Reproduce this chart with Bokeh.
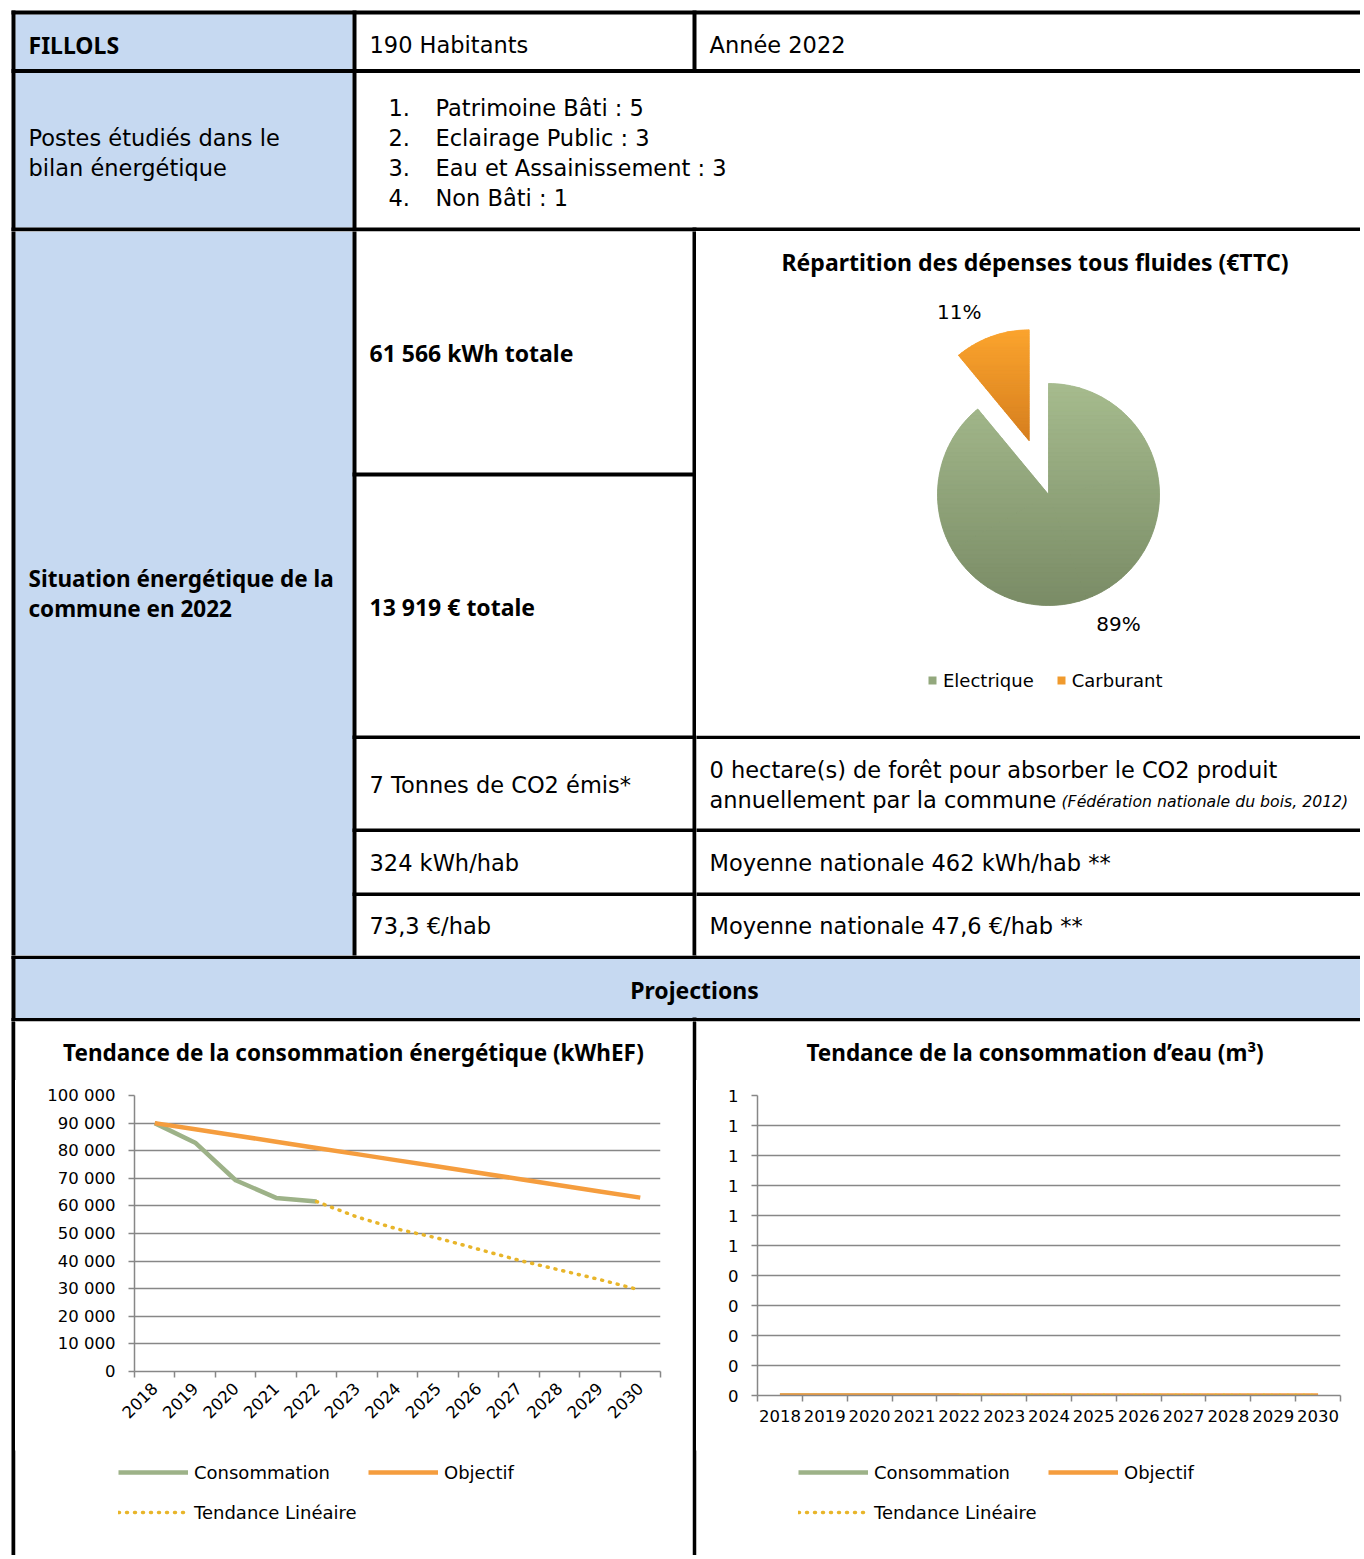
import math
from bokeh.plotting import figure
from bokeh.layouts import column, row
from bokeh.models import Range1d, FixedTicker, Legend, LegendItem
from bokeh.core.properties import value
from bokeh.embed import file_html
from bokeh.resources import INLINE

# ---------------- data ----------------
commune = "FILLOLS"
habitants = "190 Habitants"
annee = "Année 2022"
postes_titre = ["Postes étudiés dans le", "bilan énergétique"]
postes_num = ["1.", "2.", "3.", "4."]
postes = ["Patrimoine Bâti : 5", "Eclairage Public : 3",
          "Eau et Assainissement : 3", "Non Bâti : 1"]
situation_titre = ["Situation énergétique de la", "commune en 2022"]
energie_totale = "61 566 kWh totale"
cout_total = "13 919 € totale"
co2 = "7 Tonnes de CO2 émis*"
foret = ["0 hectare(s) de forêt pour absorber le CO2 produit",
         "annuellement par la commune"]
foret_source = "(Fédération nationale du bois, 2012)"
kwh_hab = "324 kWh/hab"
kwh_nat = "Moyenne nationale 462 kWh/hab **"
eur_hab = "73,3 €/hab"
eur_nat = "Moyenne nationale 47,6 €/hab **"
projections = "Projections"

pie_title = "Répartition des dépenses tous fluides (€TTC)"
pie_labels = ["Electrique", "Carburant"]
pie_values = [89, 11]
pie_texts = ["89%", "11%"]

legend_labels = ["Consommation", "Objectif", "Tendance Linéaire"]
years = [2018, 2019, 2020, 2021, 2022, 2023, 2024, 2025, 2026, 2027, 2028, 2029, 2030]
conso_years = [2018, 2019, 2020, 2021, 2022]
trend_years = [2022, 2023, 2024, 2025, 2026, 2027, 2028, 2029, 2030]

energy_title = "Tendance de la consommation énergétique (kWhEF)"
conso_energy = [90000, 82900, 69300, 62900, 61566]
objectif_energy = [90000, 87750, 85500, 83250, 81000, 78750, 76500,
                   74250, 72000, 69750, 67500, 65250, 63000]
trend_energy = [61566, 56000, 51600, 48300, 44300, 40300, 36800, 33300, 29500]
energy_ticks = [0, 10000, 20000, 30000, 40000, 50000, 60000, 70000, 80000, 90000, 100000]
energy_tick_labels = ["0", "10 000", "20 000", "30 000", "40 000", "50 000",
                      "60 000", "70 000", "80 000", "90 000", "100 000"]

water_title = "Tendance de la consommation d’eau (m³)"
conso_water = [0, 0, 0, 0, 0]
objectif_water = [0, 0, 0, 0, 0, 0, 0, 0, 0, 0, 0, 0, 0]
trend_water = [0, 0, 0, 0, 0, 0, 0, 0, 0]
water_ticks = [0, 0.1, 0.2, 0.3, 0.4, 0.5, 0.6, 0.7, 0.8, 0.9, 1.0]
water_tick_labels = ["0", "0", "0", "0", "0", "1", "1", "1", "1", "1", "1"]

# ---------------- styles / layout ----------------
BLUE = "#C6D9F1"
GREEN = "#9DB288"
ORANGE = "#F59D3E"
GOLD = "#E8B52A"
GRID = "#878787"
PIE_MID = ["#93A87D", "#F09A2D"]
PIE_TOP = ["#A6BC8E", "#FBA42E"]
PIE_BOT = ["#7A8B66", "#D67F1F"]
REG = "DejaVu Sans"
BOLD = "Noto Sans"
RS, BS = "22.5px", "23px"
PW, PH = 1360, 1555

# page-pixel rectangles (left, right, top, bottom)
FILLS = [(15, 352, 14, 227), (15, 352, 231, 955), (15, PW, 958.5, 1017.5)]
RULES = [
    (11, 15, 10, PH), (11, PW, 10, 14), (11, PW, 68.5, 72.5), (11, PW, 227, 231),
    (352, 356, 10, 958), (692, 696, 10, 72), (692, 696, 227, 958), (692, 696, 1017, PH),
    (352, 696, 472, 476), (352, PW, 735, 738.5), (352, PW, 828, 831.5),
    (352, PW, 892, 895.5), (11, PW, 955, 958.5), (11, PW, 1017.5, 1021),
]


def table_fig(x0, y0, x1, y1):
    p = figure(width=x1 - x0, height=y1 - y0, x_range=Range1d(x0, x1), y_range=Range1d(y1, y0),
               min_border=0, toolbar_location=None, output_backend="svg",
               x_axis_type=None, y_axis_type=None, outline_line_color=None,
               background_fill_color="white", border_fill_color="white")
    p.quad(left=[f[0] for f in FILLS], right=[f[1] for f in FILLS],
           top=[f[2] for f in FILLS], bottom=[f[3] for f in FILLS],
           fill_color=BLUE, line_color=None)
    p.quad(left=[f[0] for f in RULES], right=[f[1] for f in RULES],
           top=[f[2] for f in RULES], bottom=[f[3] for f in RULES],
           fill_color="black", line_color=None)
    return p


def put(p, xs, ys, texts, font=REG, size=RS, style="normal", align="left"):
    p.text(x=xs, y=ys, text=texts, text_font=value(font), text_font_size=value(size),
           text_font_style=value(style), text_align=value(align),
           text_baseline=value("middle"), text_color="black")


# ---- top rows ----
top = table_fig(0, 0, PW, 231)
put(top, [28], [44], [commune], font=BOLD, size=BS, style="bold")
put(top, [369, 709], [44, 44], [habitants, annee])
put(top, [28, 28], [137, 167], postes_titre)
list_y = [107, 137, 167, 197]
put(top, [388] * 4, list_y, postes_num)
put(top, [435] * 4, list_y, postes)

# ---- middle left ----
midL = table_fig(0, 231, 696, 955)
put(midL, [28, 28], [578, 608], situation_titre, font=BOLD, size="22.5px", style="bold")
put(midL, [369, 369], [352, 606], [energie_totale, cout_total], font=BOLD, size=BS, style="bold")
put(midL, [369, 369, 369], [784, 862, 925], [co2, kwh_hab, eur_hab])

# ---- middle right ----
midR = table_fig(696, 735, PW, 955)
put(midR, [709, 709], [769, 799], foret)
put(midR, [1061], [801], [foret_source], size="15.7px", style="italic")
put(midR, [709, 709], [862, 925], [kwh_nat, eur_nat])

# ---- pie ----
pie = figure(width=PW - 696, height=504, x_range=Range1d(696, PW), y_range=Range1d(-735, -231),
             min_border=0, toolbar_location=None, output_backend="svg",
             x_axis_type=None, y_axis_type=None, outline_line_color=None)
cx, cy, R = 1048, -494, 111
explode = [0, 57]
tot = sum(pie_values)
starts, ends, px, py, lx, ly = [], [], [], [], [], []
cum = 0
for v, e in zip(pie_values, explode):
    a0 = math.pi / 2 - 2 * math.pi * cum / tot
    cum += v
    a1 = math.pi / 2 - 2 * math.pi * cum / tot
    mid = (a0 + a1) / 2
    starts.append(a0)
    ends.append(a1)
    x = cx + e * math.cos(mid)
    y = cy + e * math.sin(mid)
    px.append(x)
    py.append(y)
    lx.append(x + 147 * math.cos(mid + 0.15))
    ly.append(y + 147 * math.sin(mid + 0.15))
wr = pie.wedge(x=px, y=py, radius=R, start_angle=starts, end_angle=ends, direction="clock",
               fill_color=PIE_MID, line_color=None)


def hex2rgb(h):
    return [int(h[i:i + 2], 16) for i in (1, 3, 5)]


def mix(c0, c1, t):
    a, b = hex2rgb(c0), hex2rgb(c1)
    return "#%02x%02x%02x" % tuple(int(round(a[k] + (b[k] - a[k]) * t)) for k in range(3))


def clip(poly, keep, cut):
    out = []
    for i in range(len(poly)):
        cur, prev = poly[i], poly[i - 1]
        if keep(cur):
            if not keep(prev):
                out.append(cut(prev, cur))
            out.append(cur)
        elif keep(prev):
            out.append(cut(prev, cur))
    return out


def cut_at(c):
    def f(p, q):
        t = (c - p[1]) / (q[1] - p[1])
        return (p[0] + t * (q[0] - p[0]), c)
    return f


def sector(xc, yc, a0, a1, n):
    return [(xc, yc)] + [(xc + R * math.cos(a0 + (a1 - a0) * k / n),
                          yc + R * math.sin(a0 + (a1 - a0) * k / n)) for k in range(n + 1)]


# vertical colour gradient of each slice: convex sub-sectors cut into horizontal bands
gx, gy, gc = [], [], []
NB = 48
for i in range(len(pie_values)):
    span = ends[i] - starts[i]
    full = sector(px[i], py[i], starts[i], ends[i], 200)
    ytop = max(q[1] for q in full)
    ybot = min(q[1] for q in full)
    m = int(math.ceil(abs(span) / (math.pi / 2)))
    for s in range(m):
        sa0 = starts[i] + span * s / m
        sa1 = starts[i] + span * (s + 1) / m
        piece = sector(px[i], py[i], sa0, sa1, 40)
        for b in range(NB):
            hi = ytop - (ytop - ybot) * b / NB
            lo = ytop - (ytop - ybot) * (b + 1) / NB
            band = clip(piece, lambda q, lo=lo: q[1] >= lo, cut_at(lo))
            band = clip(band, lambda q, hi=hi: q[1] <= hi, cut_at(hi))
            if len(band) >= 3:
                col = mix(PIE_TOP[i], PIE_BOT[i], (b + 0.5) / NB)
                gx.append([q[0] for q in band])
                gy.append([q[1] for q in band])
                gc.append(col)
pie.patches(xs=gx, ys=gy, fill_color=gc, line_color=gc, line_width=0.8)

put(pie, lx, ly, pie_texts, size="20px", align="center")
put(pie, [1034.5], [-261], [pie_title], font=BOLD, size=BS, style="bold", align="center")
pie_leg = Legend(items=[LegendItem(label=pie_labels[i], renderers=[wr], index=i) for i in range(2)],
                 orientation="horizontal", location=(231, 44.5), padding=0, margin=0, spacing=22,
                 glyph_width=10, glyph_height=10, label_standoff=6,
                 label_text_font=REG, label_text_font_size="18px", label_text_color="black",
                 border_line_color=None, background_fill_alpha=0)
pie.add_layout(pie_leg)

# ---- projections header ----
proj = table_fig(0, 955, PW, 1021)
put(proj, [694], [989], [projections], font=BOLD, size=BS, style="bold", align="center")

# ---- chart cells ----
CH_Y0, TITLE_Y1, LEG_Y0 = 1021, 1080, 1450
sepL = table_fig(0, CH_Y0, 15, PH)
sepM = table_fig(692, CH_Y0, 696, PH)

LINE_STYLES = [dict(line_color=GREEN, line_width=4.5, line_join="round"),
               dict(line_color=ORANGE, line_width=4.5, line_join="round"),
               dict(line_color=GOLD, line_width=3.5, line_dash="1 7", line_cap="round")]


def make_chart(x0, x1, frame, y_end, ticks, tick_labels, orient, title, title_x,
               cons, obj, trend, leg_x, leg_rows):
    fl, fr, ft, fb = frame
    head = table_fig(x0, CH_Y0, x1, TITLE_Y1)
    put(head, [title_x], [1052], [title], font=BOLD, size="22.5px", style="bold", align="center")

    p = figure(width=x1 - x0, height=LEG_Y0 - TITLE_Y1,
               x_range=Range1d(years[0] - 0.5, years[-1] + 0.5), y_range=Range1d(0, y_end),
               min_border_left=fl - x0, min_border_right=x1 - fr,
               min_border_top=ft - TITLE_Y1, min_border_bottom=LEG_Y0 - fb,
               toolbar_location=None, output_backend="svg", outline_line_color=None,
               background_fill_color="white", border_fill_color="white")
    bounds = [y - 0.5 for y in years] + [years[-1] + 0.5]
    p.xaxis.ticker = FixedTicker(ticks=years, minor_ticks=bounds)
    p.xaxis.major_tick_line_color = None
    p.xaxis.major_tick_out = 6
    p.xaxis.minor_tick_line_color = GRID
    p.xaxis.minor_tick_line_width = 1.5
    p.xaxis.minor_tick_out = 6
    p.xaxis.minor_tick_in = 0
    p.xaxis.major_label_orientation = orient
    p.yaxis.ticker = FixedTicker(ticks=ticks)
    p.yaxis.major_label_overrides = dict(zip(ticks, tick_labels))
    p.yaxis.minor_tick_line_color = None
    p.yaxis.major_tick_out = 6
    p.yaxis.major_tick_in = 0
    p.yaxis.major_tick_line_color = GRID
    p.yaxis.major_tick_line_width = 1.5
    for ax in (p.xaxis, p.yaxis):
        ax.axis_line_color = GRID
        ax.axis_line_width = 1.5
        ax.major_label_text_font = REG
        ax.major_label_text_font_size = "16.5px"
        ax.major_label_text_color = "black"
    p.xaxis.major_label_standoff = 8
    p.yaxis.major_label_standoff = 13
    p.xgrid.visible = False
    p.ygrid.grid_line_color = GRID
    p.ygrid.grid_line_width = 1.5

    p.line(conso_years, cons, **LINE_STYLES[0])
    p.line(years, obj, **LINE_STYLES[1])
    p.line(trend_years, trend, **LINE_STYLES[2])

    # legend panel: keys carry the same series (they fall outside this panel's view)
    lg = table_fig(x0, LEG_Y0, x1, PH)
    keys = [lg.line(conso_years, cons, **LINE_STYLES[0]),
            lg.line(years, obj, **LINE_STYLES[1]),
            lg.line(trend_years, trend, **LINE_STYLES[2])]
    common = dict(padding=0, margin=0, spacing=0, glyph_width=70, glyph_height=20,
                  label_standoff=6, label_width=174, label_text_font=REG,
                  label_text_font_size="18px", label_text_color="black",
                  border_line_color=None, background_fill_alpha=0, orientation="horizontal")
    leg1 = Legend(items=[LegendItem(label=legend_labels[0], renderers=[keys[0]]),
                         LegendItem(label=legend_labels[1], renderers=[keys[1]])],
                  location=(leg_x - x0, PH - leg_rows[0] - 10.5), **common)
    leg2 = Legend(items=[LegendItem(label=legend_labels[2], renderers=[keys[2]])],
                  location=(leg_x - x0, PH - leg_rows[1] - 10.5), **common)
    lg.add_layout(leg1)
    lg.add_layout(leg2)
    return column(head, column(p), lg)


cellL = make_chart(15, 692, (134, 660, 1095, 1371), 100000, energy_ticks, energy_tick_labels,
                   math.pi / 4, energy_title, 353, conso_energy, objectif_energy, trend_energy,
                   118, (1472, 1512))
cellR = make_chart(696, PW, (757, 1340, 1095, 1395), 1.0, water_ticks, water_tick_labels,
                   "horizontal", water_title, 1034.5, conso_water, objectif_water, trend_water,
                   798, (1472, 1512))

layout = column(top,
                row(midL, column(pie, midR)),
                proj,
                row(sepL, cellL, sepM, cellR))

open("out.html", "w").write(file_html(layout, INLINE))
